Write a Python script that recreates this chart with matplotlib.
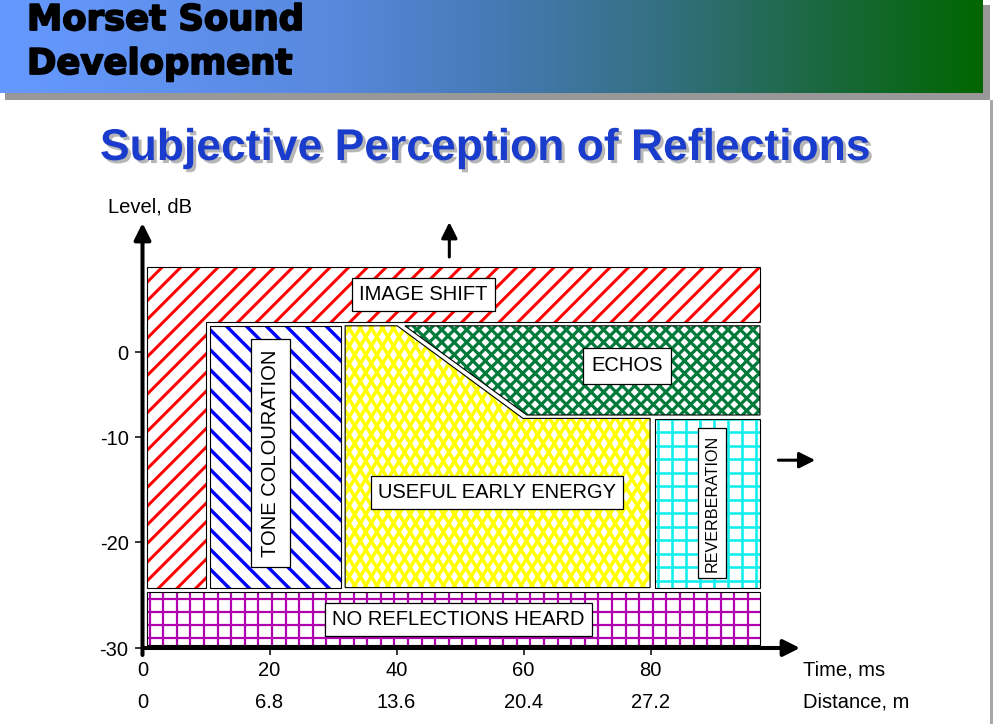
import numpy as np
import matplotlib
matplotlib.use('Agg')
import matplotlib.pyplot as plt
from matplotlib.patches import Polygon, Rectangle
from matplotlib.collections import LineCollection
from matplotlib.transforms import Affine2D
import matplotlib.patheffects as pe

plt.rcParams['font.family'] = ['Liberation Sans', 'DejaVu Sans']

# ---------------- data ----------------
time_ticks = [0, 20, 40, 60, 80]
time_labels = ['0', '20', '40', '60', '80']
distance_labels = ['0', '6.8', '13.6', '20.4', '27.2']
level_ticks = [0, -10, -20, -30]
level_labels = ['0', '-10', '-20', '-30']

# the schematic's level axis has uneven tick spacing: level -> drawn offset
level_marks = [-40, -30, -20, -10, 0, 30]
level_pos = [-106, 0, 106, 211, 296, 551]

image_shift_t = [0.7, 97.2, 97.2, 10.0, 10.0, 0.7]
image_shift_db = [10.0, 10.0, 3.5, 3.5, -24.3, -24.3]
tone_t = [10.6, 31.3, 31.3, 10.6]
tone_db = [3.1, 3.1, -24.3, -24.3]
useful_t = [31.9, 40.1, 59.9, 79.9, 79.9, 31.9]
useful_db = [3.1, 3.1, -7.8, -7.8, -24.3, -24.3]
echos_t = [41.3, 97.2, 97.2, 60.5]
echos_db = [3.1, 3.1, -7.4, -7.4]
reverb_t = [80.7, 97.2, 97.2, 80.7]
reverb_db = [-7.9, -7.9, -24.3, -24.3]
noref_t = [0.7, 97.2, 97.2, 0.7]
noref_db = [-24.7, -24.7, -29.7, -29.7]

label_text = ['IMAGE SHIFT', 'TONE COLOURATION', 'USEFUL EARLY ENERGY',
              'ECHOS', 'REVERBERATION', 'NO REFLECTIONS HEARD']
label_t = [44.2, 20.1, 55.8, 76.3, 89.7, 49.7]
label_db = [6.8, -11.5, -15.3, -1.6, -16.3, -27.3]

# ---------------- figure ----------------
W, H, DPI = 995, 724, 100
fig = plt.figure(figsize=(W / DPI, H / DPI), dpi=DPI)
fig.patch.set_facecolor('white')

# background / slide decoration axes in pixel coordinates
bg = fig.add_axes([0, 0, 1, 1], zorder=0)
stops = [0.0, 0.336, 0.5, 0.67, 0.83, 1.0]
cols = np.array([(102, 153, 255), (88, 137, 222), (70, 122, 182),
                 (52, 112, 130), (28, 104, 66), (0, 102, 0)]) / 255.0
xs = np.linspace(0, 1, 600)
grad = np.stack([np.interp(xs, stops, cols[:, k]) for k in range(3)], axis=-1)[None, :, :]
bg.add_patch(Rectangle((5, 5), 985, 95, facecolor='#989898', edgecolor='none', zorder=1))
bg.imshow(grad, extent=(0, 983, 93, 0), aspect='auto', zorder=2, interpolation='bilinear')
bg.add_patch(Rectangle((990, 100), 3, 624, facecolor='#a8a8a8', edgecolor='none', zorder=1))
bg.set_xlim(0, W)
bg.set_ylim(H, 0)
bg.axis('off')

heavy = [pe.Stroke(linewidth=1.3, foreground='black'), pe.Normal()]
bg.text(27, 30, 'Morset Sound', fontsize=25.5, fontweight='bold', family='DejaVu Sans',
        va='baseline', ha='left', color='black', zorder=3, path_effects=heavy)
bg.text(27, 74, 'Development', fontsize=25.5, fontweight='bold', family='DejaVu Sans',
        va='baseline', ha='left', color='black', zorder=3, path_effects=heavy)
bg.text(100, 160, 'Subjective Perception of Reflections', fontsize=32, fontweight='bold',
        color='#1a3ccc', va='baseline', ha='left', zorder=3,
        path_effects=[pe.withSimplePatchShadow(offset=(2.2, -2.2), shadow_rgbFace='#7a7a7a', alpha=0.55)])

# ---------------- chart axes ----------------
ax = fig.add_axes([142.5 / W, (H - 648) / H, (800 - 142.5) / W, (648 - 223) / H], zorder=1)
ax.set_facecolor('none')


def fwd(y):
    return np.interp(y, level_marks, level_pos)


def inv(p):
    return np.interp(p, level_pos, level_marks)


ax.set_yscale('function', functions=(fwd, inv))
x_max = 103.5
y_top = 15.2
ax.set_xlim(0, x_max)
ax.set_ylim(-30, y_top)
for s in ax.spines.values():
    s.set_visible(False)

ax.set_xticks(time_ticks, time_labels)
ax.set_yticks(level_ticks, level_labels)
ax.minorticks_off()
ax.tick_params(axis='x', direction='out', length=5, width=1.1, labelsize=14.5, pad=4, colors='black')
ax.tick_params(axis='y', direction='out', length=6, width=1.1, labelsize=14.5, pad=4, colors='black')

sec = ax.secondary_xaxis(-32 / 425)
sec.set_xticks(time_ticks, distance_labels)
sec.tick_params(axis='x', direction='out', length=5, width=1.1, labelsize=14.5, pad=4, color='none')
for s in sec.spines.values():
    s.set_visible(False)

# pixel transform (origin top-left) for hatching
pix = Affine2D().scale(1.0 / W, -1.0 / H).translate(0, 1) + fig.transFigure


def add_region(tv, dbv, color, families, lw_px):
    xy = np.column_stack([tv, dbv])
    fill = Polygon(xy, closed=True, facecolor='white', edgecolor='none', zorder=1)
    ax.add_patch(fill)
    for ang, sp in families:
        th = np.deg2rad(ang)
        d = np.array([np.cos(th), -np.sin(th)])
        n = np.array([np.sin(th), np.cos(th)])
        corners = np.array([[0, 0], [W, 0], [0, H], [W, H]])
        proj = corners @ n
        cs = np.arange(np.floor(proj.min() / sp) * sp, proj.max() + sp, sp)
        L = 2000
        segs = [[c * n - L * d, c * n + L * d] for c in cs]
        lc = LineCollection(segs, colors=color, linewidths=lw_px * 0.72,
                            transform=pix, zorder=2, capstyle='butt')
        ax.add_collection(lc, autolim=False)
        lc.set_clip_path(fill)
    ax.add_patch(Polygon(xy, closed=True, fill=False, edgecolor='black', lw=0.8, zorder=3))


add_region(image_shift_t, image_shift_db, '#ff0000', [(45, 13.2)], 3.0)
add_region(tone_t, tone_db, '#0000ff', [(-45, 14.1)], 3.4)
add_region(useful_t, useful_db, '#ffff00', [(58, 9.4), (-58, 9.4)], 3.5)
add_region(echos_t, echos_db, '#007a3a', [(45, 8.8), (-45, 8.8)], 3.2)
add_region(reverb_t, reverb_db, '#10eeee', [(90, 14.0), (0, 13.5)], 2.6)
add_region(noref_t, noref_db, '#b000b0', [(90, 13.6), (0, 13.3)], 2.2)

label_size = [14.5, 14.5, 14.5, 14.5, 11.6, 14.5]
label_rot = [0, 90, 0, 0, 90, 0]
label_pad = [0.35, 0.5, 0.35, 0.42, 0.4, 0.35]
for txt, tx, ty, fs, rot, pd in zip(label_text, label_t, label_db, label_size, label_rot, label_pad):
    ax.text(tx, ty, txt, fontsize=fs, rotation=rot, ha='center', va='center', zorder=5,
            bbox=dict(boxstyle='square,pad=%s' % pd, facecolor='white', edgecolor='black', lw=0.9))

# axes arrows
axis_arrow = dict(arrowstyle='-|>,head_length=0.5,head_width=0.25', color='black', lw=2.9,
                  shrinkA=0, shrinkB=0, mutation_scale=20)
ax.annotate('', xy=(0, y_top), xytext=(0, -30.66), arrowprops=axis_arrow, annotation_clip=False, zorder=6)
ax.annotate('', xy=(x_max, -30), xytext=(0, -30), arrowprops=axis_arrow, annotation_clip=False, zorder=6)

small_arrow = dict(arrowstyle='-|>,head_length=0.6,head_width=0.3', color='black', lw=2.2,
                   shrinkA=0, shrinkB=0, mutation_scale=16)
ax.annotate('', xy=(48.3, 15.3), xytext=(48.3, 11.2), arrowprops=small_arrow, annotation_clip=False)
ax.annotate('', xy=(105.9, -12.2), xytext=(100.1, -12.2), arrowprops=small_arrow, annotation_clip=False)

# axis titles
fig.text(108 / W, 1 - 207 / H, 'Level, dB', fontsize=14.5, ha='left', va='center')
fig.text(803 / W, 1 - 670 / H, 'Time, ms', fontsize=14.5, ha='left', va='center')
fig.text(803 / W, 1 - 702 / H, 'Distance, m', fontsize=14.5, ha='left', va='center')

fig.savefig('out.png', dpi=DPI, facecolor='white')
